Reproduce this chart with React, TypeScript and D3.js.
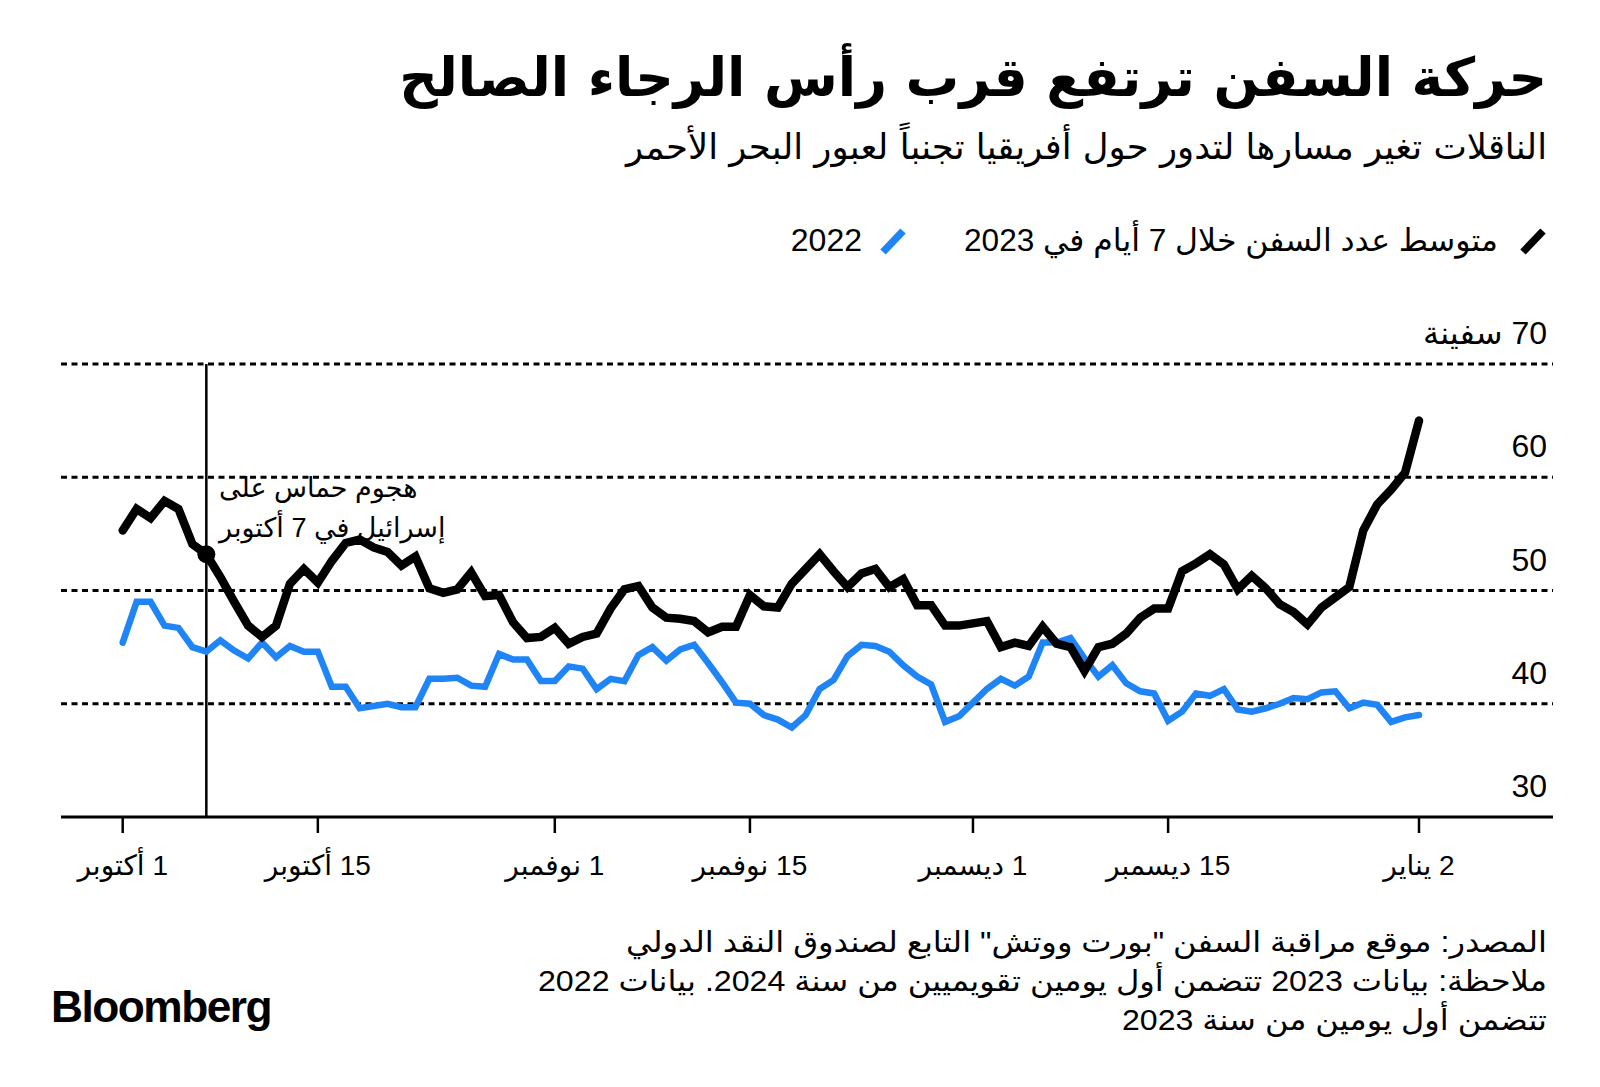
import React from "react";
import * as d3 from "d3";

const title = "حركة السفن ترتفع قرب رأس الرجاء الصالح";
const subtitle = "الناقلات تغير مسارها لتدور حول أفريقيا تجنباً لعبور البحر الأحمر";
const legendLabels = ["متوسط عدد السفن خلال 7 أيام في 2023", "2022"];
const annotationLines = ["هجوم حماس على", "إسرائيل في 7 أكتوبر"];
const footerLines = [
  "المصدر: موقع مراقبة السفن \"بورت ووتش\" التابع  لصندوق النقد الدولي",
  "ملاحظة: بيانات 2023 تتضمن أول يومين تقويميين من سنة 2024. بيانات 2022",
  "تتضمن أول يومين من سنة 2023",
];

const startDate = "2023-10-01";
const eventDate = "2023-10-07";

const series2023 = [
  55.3, 57.2, 56.4, 57.9, 57.2, 54.1, 53.2, 51.2, 49.0, 46.9,
  45.9, 46.9, 50.6, 51.9, 50.7, 52.6, 54.2, 54.5, 53.8, 53.4,
  52.2, 53.0, 50.2, 49.8, 50.1, 51.6, 49.5, 49.6, 47.2, 45.8,
  45.9, 46.7, 45.3, 45.9, 46.2, 48.4, 50.1, 50.4, 48.5, 47.6,
  47.5, 47.3, 46.3, 46.8, 46.8, 49.6, 48.6, 48.5, 50.6, 51.9,
  53.2, 51.7, 50.3, 51.5, 51.9, 50.3, 51.0, 48.7, 48.7, 46.9,
  46.9, 47.1, 47.3, 45.0, 45.4, 45.1, 46.8, 45.3, 45.0, 42.9,
  45.0, 45.3, 46.2, 47.6, 48.4, 48.4, 51.7, 52.4, 53.2, 52.3,
  50.1, 51.3, 50.2, 48.8, 48.1, 47.0, 48.5, 49.4, 50.3, 55.3,
  57.6, 58.9, 60.4, 65.0,
];

const series2022 = [
  45.4, 49.0, 49.0, 46.9, 46.7, 45.0, 44.6, 45.6, 44.7, 44.0,
  45.4, 44.1, 45.1, 44.6, 44.6, 41.5, 41.5, 39.6, 39.8, 40.0,
  39.7, 39.7, 42.2, 42.2, 42.3, 41.6, 41.5, 44.4, 43.9, 43.9,
  42.0, 42.0, 43.3, 43.1, 41.3, 42.2, 42.0, 44.3, 45.0, 43.8,
  44.8, 45.2, 43.6, 41.9, 40.1, 40.0, 39.0, 38.6, 37.9, 39.0,
  41.3, 42.1, 44.2, 45.2, 45.1, 44.6, 43.4, 42.4, 41.7, 38.4,
  38.9, 40.1, 41.3, 42.2, 41.6, 42.4, 45.4, 45.4, 45.8, 44.0,
  42.4, 43.4, 41.8, 41.1, 40.9, 38.5, 39.3, 40.9, 40.7, 41.3,
  39.5, 39.3, 39.6, 40.0, 40.5, 40.4, 41.0, 41.1, 39.6, 40.1,
  39.9, 38.4, 38.8, 39.0,
];

const xTickDates = ["2023-10-01", "2023-10-15", "2023-11-01", "2023-11-15", "2023-12-01", "2023-12-15", "2024-01-02"];
const xTickLabels = ["1 أكتوبر", "15 أكتوبر", "1 نوفمبر", "15 نوفمبر", "1 ديسمبر", "15 ديسمبر", "2 يناير"];
const yTicks = [30, 40, 50, 60, 70];
const yTickLabels = ["30", "40", "50", "60", "70 سفينة"];

const BLUE = "#1f84f6";
const FONT = "'Liberation Sans', 'DejaVu Sans', sans-serif";
const AR_FONT = "'DejaVu Sans', sans-serif";

const parse = (s: string) => new Date(s + "T00:00:00Z");

export default function App() {
  const W = 1600, H = 1087;
  const start = parse(startDate);
  const dayMs = 86400000;
  const dates = series2023.map((_, i) => new Date(start.getTime() + i * dayMs));

  const x = d3.scaleUtc().domain([parse("2023-10-01"), parse("2024-01-02")]).range([122.7, 1419]);
  const y = d3.scaleLinear().domain([30, 70]).range([817, 364]);

  const line = d3
    .line<number>()
    .x((_, i) => x(dates[i]))
    .y((d) => y(d));

  const right = 1547;
  const evX = x(parse(eventDate));
  const evIdx = Math.round((parse(eventDate).getTime() - start.getTime()) / dayMs);
  const footerWidths = [921, 1009, 425];

  return (
    <svg
      width={W}
      height={H}
      viewBox={`0 0 ${W} ${H}`}
      style={{ position: "absolute", left: 0, top: 0, background: "#fff" }}
      fontFamily={FONT}
    >
      <rect width={W} height={H} fill="#fff" />
      {/* Title */}
      <text x={right} y={96} direction="rtl" textAnchor="start" fontSize={53.5} fontWeight={700} fontFamily={AR_FONT} fill="#000">
        {title}
      </text>
      <text x={right} y={159} direction="rtl" textAnchor="start" fontSize={35} fontFamily={AR_FONT} fill="#000" textLength={921} lengthAdjust="spacingAndGlyphs">
        {subtitle}
      </text>

      {/* Legend */}
      <line x1={1523} y1={252} x2={1543} y2={231} stroke="#000" strokeWidth={7.5} />
      <text x={1498} y={251} direction="rtl" textAnchor="start" fontSize={31} fontFamily={FONT} fill="#000" textLength={534} lengthAdjust="spacingAndGlyphs">
        {legendLabels[0]}
      </text>
      <line x1={883} y1={252} x2={903} y2={231} stroke={BLUE} strokeWidth={7.5} />
      <text x={862} y={251} direction="rtl" textAnchor="start" fontSize={32} fontFamily={FONT} fill="#000">
        {legendLabels[1]}
      </text>

      {/* Gridlines */}
      {yTicks.slice(1).map((t) => (
        <line key={t} x1={61} x2={1553} y1={y(t)} y2={y(t)} stroke="#000" strokeWidth={3} strokeDasharray="6 4.5" />
      ))}
      {yTicks.map((t, i) => (
        <text key={"yl" + t} x={right} y={y(t) - 20} direction="rtl" textAnchor="start" fontSize={32} fontFamily={FONT} fill="#000">
          {yTickLabels[i]}
        </text>
      ))}

      {/* Event line */}
      <line x1={evX} x2={evX} y1={y(70)} y2={y(30)} stroke="#000" strokeWidth={2.5} />
      {annotationLines.map((t, i) => (
        <text key={t} x={219} y={497 + i * 40} direction="rtl" textAnchor="end" fontSize={27} fontFamily={FONT} fill="#000">
          {t}
        </text>
      ))}

      {/* Axis */}
      <line x1={61} x2={1553} y1={y(30)} y2={y(30)} stroke="#000" strokeWidth={3} />
      {xTickDates.map((d, i) => (
        <g key={d} transform={`translate(${x(parse(d))},0)`}>
          <line y1={y(30)} y2={y(30) + 16} stroke="#000" strokeWidth={2.5} />
          <text y={875} textAnchor="middle" direction="rtl" fontSize={28} fontFamily={FONT} fill="#000">
            {xTickLabels[i]}
          </text>
        </g>
      ))}

      {/* Lines */}
      <path d={line(series2022) || ""} fill="none" stroke={BLUE} strokeWidth={6.5} strokeLinecap="round" strokeLinejoin="miter" />
      <path d={line(series2023) || ""} fill="none" stroke="#000" strokeWidth={8.5} strokeLinecap="round" strokeLinejoin="miter" />
      <circle cx={evX} cy={y(series2023[evIdx])} r={9} fill="#000" />

      {/* Footer */}
      {footerLines.map((t, i) => (
        <text key={i} x={right} y={952 + i * 39} direction="rtl" textAnchor="start" fontSize={29} fontFamily={FONT} fill="#000" textLength={footerWidths[i]} lengthAdjust="spacingAndGlyphs">
          {t}
        </text>
      ))}
      <text x={51} y={1022} fontSize={44} fontWeight={700} fontFamily="'Liberation Sans', Arial, sans-serif" letterSpacing={-1.5} fill="#000" textLength={220} lengthAdjust="spacingAndGlyphs">
        Bloomberg
      </text>
    </svg>
  );
}
